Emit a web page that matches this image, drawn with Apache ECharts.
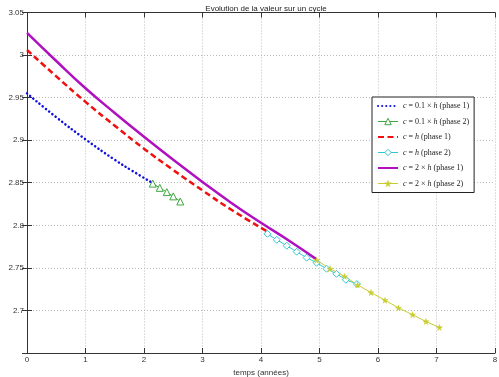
<!DOCTYPE html>
<html>
<head>
<meta charset="utf-8">
<script src="https://cdn.jsdelivr.net/npm/echarts@6/dist/echarts.min.js"></script>
<style>
html, body { margin: 0; padding: 0; background: #fff; }
#chart { width: 499px; height: 377px; }
</style>
</head>
<body>
<div id="chart"></div>
<script>
// valeurs : [temps, valeur]
var eps01Phase1 = [[0, 2.955], [0.5, 2.927], [1, 2.901], [1.5, 2.877], [1.8, 2.864], [2.14, 2.850]];
var eps01Phase2 = [[2.15, 2.849], [2.27, 2.844], [2.39, 2.839], [2.50, 2.834], [2.62, 2.828]];
var eps1Phase1 = [[0, 3.006], [0.5, 2.975], [1, 2.945], [1.5, 2.917], [2, 2.890], [2.5, 2.865], [3, 2.841], [3.5, 2.818], [4.1, 2.793]];
var eps1Phase2 = [[4.11, 2.790], [4.27, 2.783], [4.44, 2.776], [4.61, 2.769], [4.78, 2.762], [4.95, 2.756], [5.12, 2.749], [5.29, 2.743], [5.45, 2.736], [5.64, 2.731]];
var eps2Phase1 = [[0, 3.026], [0.5, 2.993], [1, 2.961], [1.5, 2.932], [2, 2.904], [2.5, 2.877], [3, 2.851], [3.5, 2.826], [4, 2.803], [4.5, 2.781], [4.95, 2.760]];
var eps2Phase2 = [[4.95, 2.759], [5.18, 2.749], [5.43, 2.740], [5.65, 2.730], [5.88, 2.721], [6.12, 2.712], [6.35, 2.703], [6.59, 2.695], [6.82, 2.687], [7.05, 2.680]];
var seriesNames = ['c01p1', 'c01p2', 'c1p1', 'c1p2', 'c2p1', 'c2p2'];
var legendLabels = {
    c01p1: '{i|c} = 0.1 × {i|h} (phase 1)',
    c01p2: '{i|c} = 0.1 × {i|h} (phase 2)',
    c1p1: '{i|c} = {i|h} (phase 1)',
    c1p2: '{i|c} = {i|h} (phase 2)',
    c2p1: '{i|c} = 2 × {i|h} (phase 1)',
    c2p2: '{i|c} = 2 × {i|h} (phase 2)'
};

var colBlue = '#1010e0', colGreen = '#40a840', colRed = '#f01010';
var colCyan = '#30c8d0', colMagenta = '#b010c0', colYellow = '#c8cc30';
var starPath = 'path://M50,0 L61,35 L98,35 L68,57 L79,91 L50,70 L21,91 L32,57 L2,35 L39,35 Z';
var tickFont = { fontFamily: 'Liberation Sans', fontSize: 8, color: '#333' };
var axisLineStyle = { color: '#333', width: 1 };
var gridLineStyle = { color: '#bbb', type: [1, 2], width: 1 };
var noSymbol = { color: 'rgba(0,0,0,0)', borderWidth: 0, opacity: 0 };

var myChart = echarts.init(document.getElementById('chart'));
var option = {
    animation: false,
    backgroundColor: '#fff',
    title: {
        text: 'Evolution de la valeur sur un cycle',
        left: 261,
        textAlign: 'center',
        top: 0,
        textStyle: { fontFamily: 'Liberation Sans', fontSize: 8, fontWeight: 'normal', color: '#222' }
    },
    grid: { left: 27, right: 4, top: 12.5, bottom: 24, containLabel: false, outerBoundsMode: 'none' },
    legend: {
        orient: 'vertical',
        left: 372,
        top: 97,
        backgroundColor: '#fff',
        borderColor: '#222',
        borderWidth: 1,
        padding: [5, 5, 5, 5],
        itemWidth: 20,
        itemHeight: 8,
        itemGap: 7.5,
        data: [
            { name: 'c01p1', itemStyle: noSymbol },
            { name: 'c01p2', itemStyle: { color: '#fff', borderColor: colGreen, borderWidth: 1 }, lineStyle: { width: 1 } },
            { name: 'c1p1', itemStyle: noSymbol },
            { name: 'c1p2', itemStyle: { color: '#fff', borderColor: colCyan, borderWidth: 1 }, lineStyle: { width: 1 } },
            { name: 'c2p1', itemStyle: noSymbol },
            { name: 'c2p2', itemStyle: { borderWidth: 0.5 }, lineStyle: { width: 1 } }
        ],
        formatter: function (name) { return legendLabels[name]; },
        textStyle: {
            fontFamily: 'Liberation Serif',
            fontSize: 8,
            color: '#222',
            rich: {
                i: { fontFamily: 'Liberation Serif', fontStyle: 'italic', fontSize: 8, color: '#222' }
            }
        }
    },
    xAxis: [
        {
            type: 'value',
            min: 0, max: 8, interval: 1,
            name: 'temps (années)',
            nameLocation: 'middle',
            nameGap: 7,
            nameTextStyle: tickFont,
            axisLine: { lineStyle: axisLineStyle },
            axisTick: { inside: true, length: 5, lineStyle: axisLineStyle },
            axisLabel: Object.assign({ margin: 3 }, tickFont),
            splitLine: { show: true, lineStyle: gridLineStyle }
        },
        {
            type: 'value',
            position: 'top',
            min: 0, max: 8, interval: 1,
            axisLine: { lineStyle: axisLineStyle },
            axisTick: { inside: true, length: 5, lineStyle: axisLineStyle },
            axisLabel: { show: false },
            splitLine: { show: false }
        }
    ],
    yAxis: [
        {
            type: 'value',
            min: 2.65, max: 3.05, interval: 0.05,
            name: 'valeur',
            nameLocation: 'middle',
            nameGap: 21,
            nameTextStyle: tickFont,
            axisLine: { show: true, lineStyle: axisLineStyle },
            axisTick: { show: true, inside: true, length: 5, lineStyle: axisLineStyle },
            axisLabel: Object.assign({
                margin: 3,
                formatter: function (v) {
                    if (v < 2.675) return '';
                    return String(Math.round(v * 100) / 100);
                }
            }, tickFont),
            splitLine: { show: true, lineStyle: gridLineStyle }
        },
        {
            type: 'value',
            position: 'right',
            min: 2.65, max: 3.05, interval: 0.05,
            axisLine: { show: true, lineStyle: axisLineStyle },
            axisTick: { show: true, inside: true, length: 5, lineStyle: axisLineStyle },
            axisLabel: { show: false },
            splitLine: { show: false }
        }
    ],
    series: [
        {
            name: 'c01p1', type: 'line', data: eps01Phase1, smooth: true,
            symbol: 'none', color: colBlue,
            lineStyle: { color: colBlue, width: 2.5, type: [0.1, 4], cap: 'round' }
        },
        {
            name: 'c01p2', type: 'line', data: eps01Phase2,
            symbol: 'triangle', symbolSize: 7, color: colGreen,
            itemStyle: { color: '#fff', borderColor: colGreen, borderWidth: 1 },
            lineStyle: { color: colGreen, width: 1 }
        },
        {
            name: 'c1p1', type: 'line', data: eps1Phase1, smooth: true,
            symbol: 'none', color: colRed,
            lineStyle: { color: colRed, width: 2.5, type: [6, 3.5] }
        },
        {
            name: 'c1p2', type: 'line', data: eps1Phase2,
            symbol: 'diamond', symbolSize: 7, color: colCyan,
            itemStyle: { color: '#fff', borderColor: colCyan, borderWidth: 1 },
            lineStyle: { color: colCyan, width: 1 }
        },
        {
            name: 'c2p1', type: 'line', data: eps2Phase1, smooth: true,
            symbol: 'none', color: colMagenta,
            lineStyle: { color: colMagenta, width: 2.5 }
        },
        {
            name: 'c2p2', type: 'line', data: eps2Phase2,
            symbol: starPath, symbolSize: 6, color: colYellow,
            itemStyle: { color: colYellow, borderColor: colYellow, borderWidth: 0.5 },
            lineStyle: { color: colYellow, width: 1 }
        }
    ]
};
myChart.setOption(option);
</script>
</body>
</html>
